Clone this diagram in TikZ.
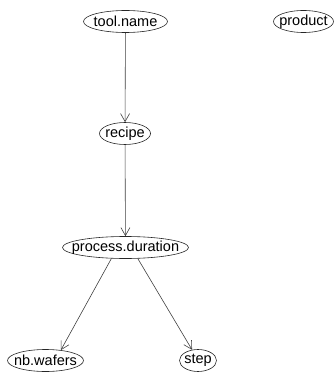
\documentclass[tikz,border=0pt]{standalone}
\usepackage{fontspec}
\setmainfont{Liberation Sans}
\usetikzlibrary{shapes.geometric}
\usetikzlibrary{arrows.meta}
\tikzset{%
    var/.style={%
        draw=black!85, ellipse, inner sep=0pt, line width=0.6pt,
        minimum height=22pt, font=\fontsize{14.5}{17}\selectfont
    },
    dep/.style={%
        draw=black!75, line width=0.6pt,
        -{Straight Barb[length=8pt,width=9pt]}
    }
}
\newcommand{\nm}[1]{\makebox[0pt]{#1}}

\begin{document}
\begin{tikzpicture}[x=1pt,y=-1pt]
		\useasboundingbox (0,0) rectangle (336,377);
		\node [var,minimum width=84pt] (tool) at (125.5,21.5) {\nm{tool.name}};
		\node [var,minimum width=60pt] (product) at (303.5,21.5) {\nm{product}};
		\node [var,minimum width=51pt] (recipe) at (125,133.5) {\nm{recipe}};
		\node [var,minimum width=126pt] (duration) at (125.5,247.5) {\nm{process.duration}};
		\node [var,minimum width=76pt] (wafers) at (45.5,360.5) {\nm{nb.wafers}};
		\node [var,minimum width=37pt] (step) at (198,360.5) {\nm{step}};
		\draw [dep] (tool) -- (recipe);
		\draw [dep] (recipe) -- (duration);
		\draw [dep] (duration.-142) -- (wafers.34);
		\draw [dep] (duration.-42) -- (step.119);
	\end{tikzpicture}
\end{document}
